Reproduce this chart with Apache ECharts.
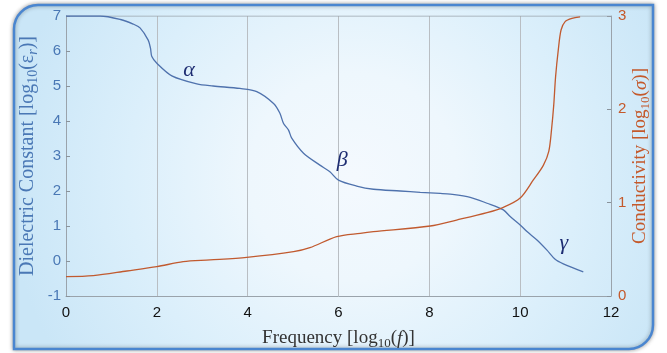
<!DOCTYPE html>
<html>
<head>
<meta charset="utf-8">
<script src="https://cdn.jsdelivr.net/npm/echarts@6/dist/echarts.min.js"></script>
<style>html,body{margin:0;padding:0;background:#fff;}#c{width:667px;height:353px;}</style>
</head>
<body>
<div id="c"></div>
<script>
// Dielectric constant curve: [log10 f, log10 eps_r]
const dielectricX = [0, 0.75, 1.2, 1.48, 1.63, 1.81, 1.86, 1.89, 2.0, 2.33, 2.88, 3.24, 3.83, 4.2, 4.57, 4.71, 4.79, 4.9, 4.97, 5.23, 5.59, 5.81, 6.0, 6.4, 6.77, 7.36, 7.8, 8.24, 8.46, 8.9, 9.27, 9.63, 9.78, 10.0, 10.15, 10.37, 10.59, 10.77, 10.95, 11.39];
const dielectricY = [7.0, 7.0, 6.9, 6.77, 6.66, 6.31, 6.08, 5.84, 5.65, 5.29, 5.06, 5.0, 4.93, 4.84, 4.5, 4.22, 3.93, 3.74, 3.51, 3.08, 2.74, 2.55, 2.31, 2.14, 2.05, 2.0, 1.96, 1.93, 1.91, 1.82, 1.65, 1.46, 1.27, 1.03, 0.84, 0.6, 0.31, 0.05, -0.08, -0.31];
// Conductivity curve: [log10 f, log10 sigma]
const conductivityX = [0, 0.6, 1.34, 2.0, 2.58, 3.17, 3.98, 5.01, 5.37, 5.96, 6.48, 6.77, 8.02, 8.6, 9.27, 9.63, 10.0, 10.29, 10.51, 10.63, 10.69, 10.74, 10.78, 10.84, 10.9, 10.99, 11.14, 11.32];
const conductivityY = [0.207, 0.218, 0.268, 0.314, 0.368, 0.386, 0.414, 0.475, 0.518, 0.636, 0.672, 0.689, 0.75, 0.814, 0.893, 0.95, 1.05, 1.243, 1.4, 1.55, 1.78, 2.05, 2.35, 2.64, 2.85, 2.94, 2.975, 2.99];
// Annotations (data coordinates on the left axis)
const annotationLabels = ['α', 'β', 'γ'];
const annotationX = [2.71, 6.08, 10.96];
const annotationY = [5.46, 2.89, 0.5];
// Tick values
const xTicks = [0, 2, 4, 6, 8, 10, 12];
const leftTicks = [-1, 0, 1, 2, 3, 4, 5, 6, 7];
const rightTicks = [0, 1, 2, 3];

const blueLine = '#4f72ad';
const orangeLine = '#c15a2f';
const blueText = '#4a78b5';
const orangeText = '#c4592b';
const serif = '"Liberation Serif", "DejaVu Serif", serif';
const sans = '"Liberation Sans", Arial, sans-serif';

function zip(a, b) { return a.map((v, i) => [v, b[i]]); }

const subStyle = (color, size, italic) => ({ fontSize: Math.round(size * 0.68), fontFamily: serif, color: color, fontStyle: italic ? 'italic' : 'normal', lineHeight: Math.round(size * 0.7), padding: [Math.round(size * 0.5), 0, 0, 0] });
const mainStyle = (color, size, italic) => ({ fontSize: size, fontFamily: serif, color: color, fontStyle: italic ? 'italic' : 'normal', lineHeight: Math.round(size * 1.2) });

const chart = echarts.init(document.getElementById('c'), null, { renderer: 'canvas' });
chart.setOption({
  animation: false,
  backgroundColor: '#ffffff',
  graphic: [{
    type: 'rect', z: -10, silent: true,
    shape: { x: 14, y: 5, width: 639, height: 344, r: [24, 0, 24, 0] },
    style: {
      fill: { type: 'radial', x: 0.53, y: 0.5, r: 1.0, colorStops: [
        { offset: 0, color: '#f4f9fe' }, { offset: 0.3, color: '#eef7fd' },
        { offset: 0.65, color: '#dbeffb' }, { offset: 1, color: '#cae6f7' }] },
      stroke: '#4a86d0', lineWidth: 2.5,
      shadowBlur: 4, shadowColor: 'rgba(0,0,0,0.35)', shadowOffsetX: 0, shadowOffsetY: 0
    }
  }],
  grid: { left: 66, right: 56, top: 16, bottom: 57, show: false, containLabel: false, outerBoundsMode: 'none' },
  xAxis: {
    type: 'value', min: xTicks[0], max: xTicks[xTicks.length - 1], interval: 2,
    name: '{a|Frequency [log}{s|10}{a|(}{ai|f}{a|)]}', nameLocation: 'middle', nameGap: 31, nameMoveOverlap: false,
    nameTextStyle: { rich: { a: mainStyle('#333333', 19), ai: mainStyle('#333333', 19, true), s: subStyle('#333333', 19) } },
    axisLine: { show: true, onZero: false, lineStyle: { color: '#9aa3ab', width: 1 } },
    axisTick: { show: false },
    axisLabel: { color: '#111', fontFamily: sans, fontSize: 15, margin: 9 },
    splitLine: { show: true, lineStyle: { color: '#b9bec3', width: 1 } }
  },
  yAxis: [{
    type: 'value', min: leftTicks[0], max: leftTicks[leftTicks.length - 1], interval: 1,
    position: 'left',
    name: '{a|Dielectric Constant [log}{s|10}{a|(ε}{si|r}{a|)]}', nameLocation: 'middle', nameGap: 26, nameRotate: 90, nameMoveOverlap: false,
    nameTextStyle: { rich: { a: mainStyle(blueText, 20), s: subStyle(blueText, 20), si: subStyle(blueText, 20, true) } },
    axisLine: { show: true, onZero: false, lineStyle: { color: '#9aa3ab', width: 1 } },
    axisTick: { show: true, inside: true, length: 4, lineStyle: { color: '#8a939b' } },
    axisLabel: { color: blueText, fontFamily: sans, fontSize: 15, margin: 5 },
    splitLine: { show: false }
  }, {
    type: 'value', min: rightTicks[0], max: rightTicks[rightTicks.length - 1], interval: 1,
    position: 'right',
    name: '{a|Conductivity [log}{s|10}{a|(}{ai|σ}{a|)]}', nameLocation: 'middle', nameGap: 18, nameRotate: 90, nameMoveOverlap: false,
    nameTextStyle: { rich: { a: mainStyle(orangeText, 19), ai: mainStyle(orangeText, 19, true), s: subStyle(orangeText, 19) } },
    axisLine: { show: true, onZero: false, lineStyle: { color: '#9aa3ab', width: 1 } },
    axisTick: { show: true, inside: true, length: 4, lineStyle: { color: '#8a939b' } },
    axisLabel: { color: orangeText, fontFamily: sans, fontSize: 15, margin: 7 },
    splitLine: { show: false }
  }],
  series: [{
    type: 'line', yAxisIndex: 0, data: zip(dielectricX, dielectricY), showSymbol: false, smooth: 0.3,
    lineStyle: { color: blueLine, width: 1.3 }, z: 3,
    markPoint: {
      symbol: 'circle', symbolSize: 1, itemStyle: { color: 'rgba(0,0,0,0)' },
      label: { show: true, position: 'inside', formatter: p => p.name, color: '#1e2d72', fontFamily: serif, fontStyle: 'italic', fontSize: 22 },
      data: annotationLabels.map((t, i) => ({ name: t, coord: [annotationX[i], annotationY[i]] }))
    }
  }, {
    type: 'line', yAxisIndex: 1, data: zip(conductivityX, conductivityY), showSymbol: false, smooth: 0.3,
    lineStyle: { color: orangeLine, width: 1.3 }, z: 3
  }, {
    // top border of the axes box
    type: 'line', yAxisIndex: 0, data: [[xTicks[0], leftTicks[leftTicks.length - 1]], [xTicks[xTicks.length - 1], leftTicks[leftTicks.length - 1]]],
    showSymbol: false, lineStyle: { color: '#9aa3ab', width: 1 }, z: 1, silent: true
  }]
});
</script>
</body>
</html>
